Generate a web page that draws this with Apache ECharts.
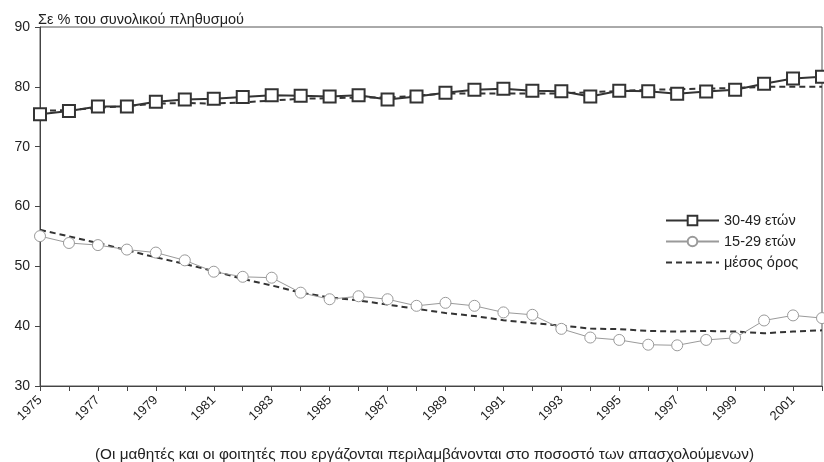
<!DOCTYPE html>
<html>
<head>
<meta charset="utf-8">
<script src="https://cdn.jsdelivr.net/npm/echarts@6/dist/echarts.min.js"></script>
<style>
html,body{margin:0;padding:0;background:#fff;}
#chart{width:824px;height:462px;}
</style>
</head>
<body>
<div id="chart"></div>
<script>
var years = ['1975','1976','1977','1978','1979','1980','1981','1982','1983','1984','1985','1986','1987','1988','1989','1990','1991','1992','1993','1994','1995','1996','1997','1998','1999','2000','2001','2002'];
var age3049 = [75.4,75.95,76.7,76.7,77.5,77.9,78.0,78.3,78.6,78.5,78.4,78.6,77.9,78.4,79.0,79.5,79.7,79.35,79.25,78.4,79.35,79.25,78.85,79.2,79.5,80.5,81.4,81.7];
var age1529 = [55.05,53.9,53.55,52.8,52.3,51.0,49.1,48.25,48.1,45.6,44.5,45.0,44.5,43.4,43.9,43.4,42.3,41.9,39.55,38.1,37.7,36.9,36.8,37.7,38.05,40.95,41.8,41.35];
var avgUpper = [76.0,76.1,76.5,76.8,77.2,77.3,77.2,77.4,77.7,78.0,78.1,78.2,78.2,78.5,78.9,78.9,78.9,78.9,78.9,79.1,79.3,79.5,79.6,79.7,79.8,80.0,80.0,80.0];
var avgLower = [56.1,55.0,53.9,52.7,51.5,50.4,49.2,47.9,46.8,45.6,44.8,44.3,43.6,42.9,42.2,41.7,41.0,40.5,40.1,39.6,39.5,39.2,39.1,39.2,39.1,38.8,39.1,39.3];
var yTitle = 'Σε % του συνολικού πληθυσμού';
var caption = '(Οι μαθητές και οι φοιτητές που εργάζονται περιλαμβάνονται στο ποσοστό των απασχολούμενων)';
var nameA = '30-49 ετών', nameB = '15-29 ετών', nameAvg = 'μέσος όρος';

var font = 'Liberation Sans, Arial, sans-serif';
var chart = echarts.init(document.getElementById('chart'));
chart.setOption({
  animation: false,
  backgroundColor: '#fff',
  textStyle: {fontFamily: font},
  title: [
    {text: yTitle, left: 33, top: 7, textStyle: {fontSize: 14.5, fontWeight: 'normal', color: '#222', fontFamily: font}},
    {text: caption, left: 90, top: 442, textStyle: {fontSize: 15.3, fontWeight: 'normal', color: '#222', fontFamily: font}}
  ],
  grid: {left: 40, right: 2, top: 27, bottom: 76, show: true, borderColor: '#555', borderWidth: 1, backgroundColor: 'transparent'},
  legend: {
    orient: 'vertical', left: 660, top: 208, itemWidth: 53, itemHeight: 12, itemGap: 6,
    backgroundColor: '#fff',
    textStyle: {fontSize: 14.5, color: '#222', fontFamily: font},
    data: [nameA, nameB, {name: nameAvg, itemStyle: {color: 'rgba(0,0,0,0)', borderColor: 'rgba(0,0,0,0)', borderWidth: 0, opacity: 0}}]
  },
  xAxis: {
    type: 'category', data: years, boundaryGap: false,
    axisLine: {lineStyle: {color: '#444', width: 1}},
    axisTick: {interval: 0, length: 5, lineStyle: {color: '#444'}},
    axisLabel: {interval: 1, rotate: 45, fontSize: 13, color: '#222', margin: 12, fontFamily: font},
    splitLine: {show: false}
  },
  yAxis: {
    type: 'value', min: 30, max: 90, interval: 10,
    axisLine: {show: true, lineStyle: {color: '#444', width: 1}},
    axisTick: {show: true, length: 5, lineStyle: {color: '#444'}},
    axisLabel: {fontSize: 14, color: '#222', margin: 10, fontFamily: font},
    splitLine: {show: false}
  },
  series: [
    {name: nameAvg, type: 'line', data: avgUpper, symbol: 'none', z: 1,
     lineStyle: {color: '#333', width: 2, type: [6, 4]}, itemStyle: {color: '#333'}},
    {name: nameAvg, type: 'line', data: avgLower, symbol: 'none', z: 1,
     lineStyle: {color: '#333', width: 2, type: [6, 4]}, itemStyle: {color: '#333'}},
    {name: nameA, type: 'line', data: age3049, symbol: 'rect', symbolSize: 12, z: 3,
     lineStyle: {color: '#333', width: 2},
     itemStyle: {color: '#fff', borderColor: '#333', borderWidth: 2}},
    {name: nameB, type: 'line', data: age1529, symbol: 'circle', symbolSize: 11, z: 3,
     lineStyle: {color: '#9a9a9a', width: 1},
     itemStyle: {color: '#fff', borderColor: '#9a9a9a', borderWidth: 1}}
  ]
});
</script>
</body>
</html>
